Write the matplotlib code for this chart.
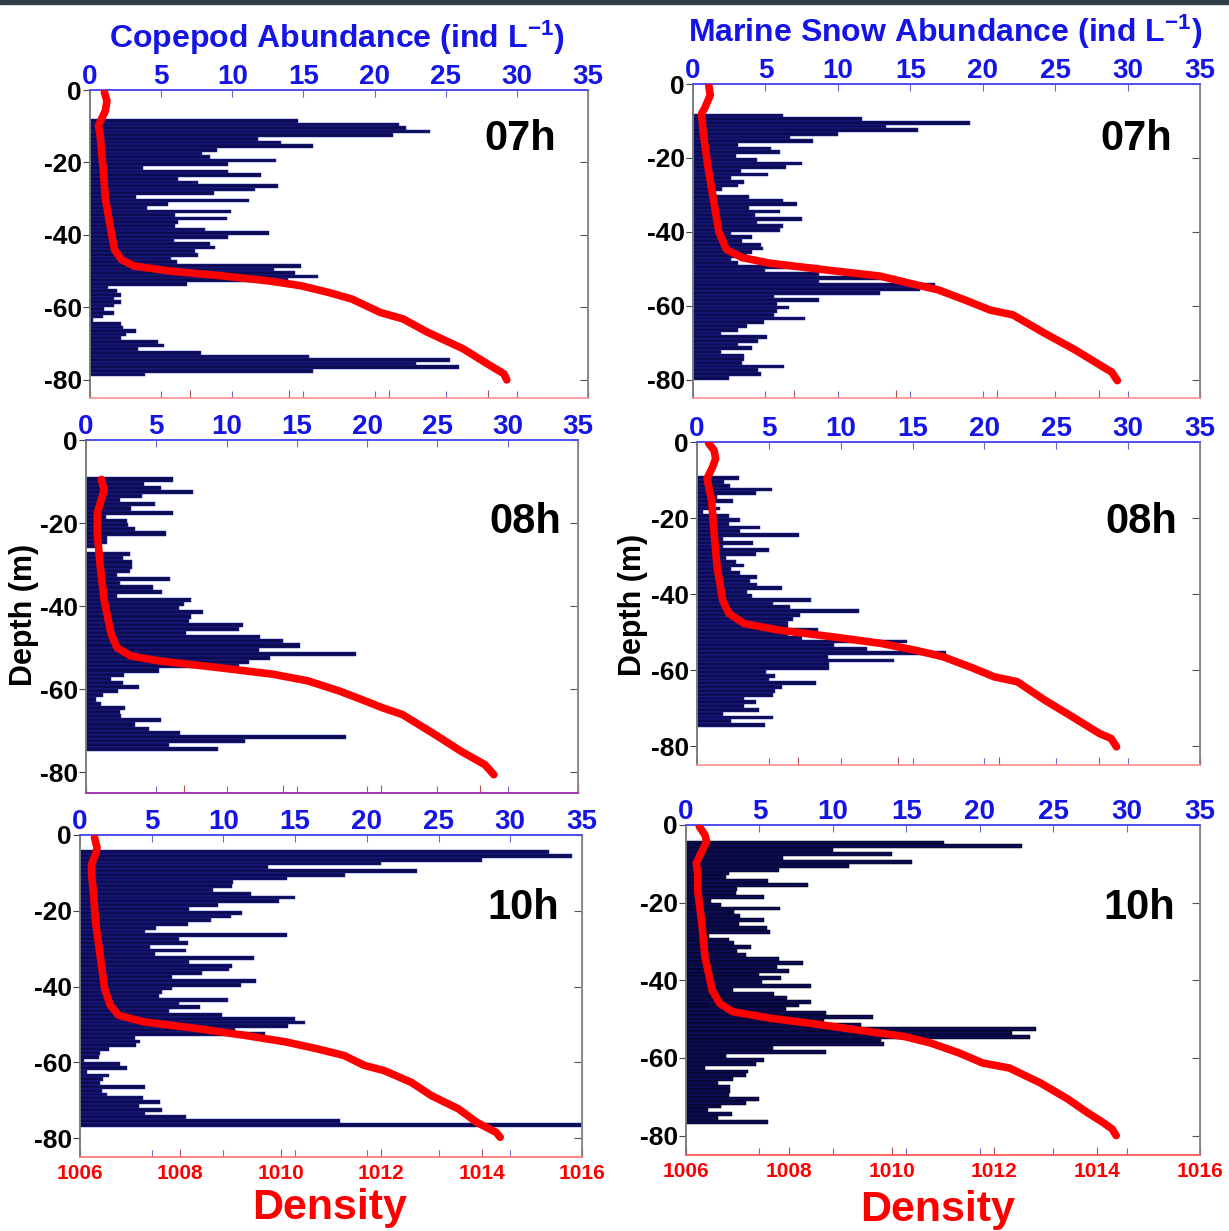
import numpy as np
import matplotlib
matplotlib.use('Agg')
import matplotlib.pyplot as plt
from matplotlib import font_manager
from matplotlib.patches import Rectangle

avail = {f.name for f in font_manager.fontManager.ttflist}
NARROW = 'Liberation Sans Narrow' if 'Liberation Sans Narrow' in avail else 'Liberation Sans'
plt.rcParams['font.family'] = ['Liberation Sans', 'DejaVu Sans']
plt.rcParams['font.weight'] = 'bold'
plt.rcParams['mathtext.fontset'] = 'custom'
plt.rcParams['mathtext.rm'] = 'Liberation Sans:bold'
plt.rcParams['mathtext.bf'] = 'Liberation Sans:bold'
plt.rcParams['mathtext.it'] = 'Liberation Sans:bold'

# ---------------- data ----------------
abund_ticks = [0, 5, 10, 15, 20, 25, 30, 35]
density_ticks = [1006, 1008, 1010, 1012, 1014, 1016]
depth_ticks = [0, -20, -40, -60, -80]

# 1-m depth bins: first bin top depth, then abundance per bin (ind L-1)
cop07_start = 8
cop07 = [14.6, 21.7, 22.2, 23.9, 21.3, 11.8, 13.4, 15.7, 8.9, 7.9,
         8.4, 13.1, 9.7, 3.7, 9.7, 12.0, 6.2, 7.6, 13.2, 11.6,
         8.7, 3.2, 11.2, 5.5, 4.0, 9.9, 6.0, 9.6, 6.2, 6.0,
         8.1, 12.6, 9.7, 5.9, 8.4, 8.8, 7.4, 7.6, 5.7, 6.1,
         14.8, 12.9, 14.4, 16.0, 13.9, 6.8, 1.3, 1.9, 2.2, 1.7,
         2.2, 1.7, 1.0, 1.7, 0.9, 0.2, 2.2, 2.3, 3.2, 2.5,
         2.2, 4.8, 5.2, 3.4, 7.8, 15.4, 25.3, 22.9, 25.9, 15.7, 3.9]

ms07_start = 8
ms07 = [6.2, 11.7, 19.1, 13.3, 15.5, 10.0, 6.7, 8.3, 3.1, 5.4,
        6.0, 3.0, 4.4, 7.5, 6.4, 3.3, 5.2, 2.6, 3.5, 3.1,
        2.0, 1.6, 3.9, 6.2, 7.2, 3.9, 6.0, 4.3, 7.5, 4.4,
        6.2, 6.0, 2.6, 4.1, 3.4, 4.7, 4.8, 4.1, 3.7, 2.6,
        3.1, 8.7, 5.0, 8.7, 14.0, 8.7, 16.7, 15.7, 12.9, 5.6,
        8.7, 5.8, 6.6, 5.8, 5.6, 7.7, 4.9, 3.7, 3.1, 1.9,
        5.1, 4.5, 3.1, 4.1, 1.9, 3.5, 3.5, 3.4, 6.3, 4.5,
        4.7, 2.5]

cop08_start = 9
cop08 = [6.2, 4.1, 5.3, 7.6, 4.0, 2.4, 4.9, 3.2, 6.2, 1.4,
         2.9, 3.0, 3.5, 5.7, 1.5, 1.5, 0.7, 0.0, 3.1, 2.6,
         3.3, 3.3, 3.1, 2.2, 6.0, 2.4, 4.8, 5.4, 2.2, 7.5,
         7.0, 6.6, 8.3, 7.5, 7.3, 11.2, 10.9, 7.1, 12.4, 14.0,
         15.2, 12.3, 19.2, 13.1, 11.6, 10.9, 5.2, 2.7, 1.8, 2.6,
         3.8, 2.3, 1.2, 0.7, 1.1, 2.8, 2.4, 2.5, 5.3, 3.5,
         4.5, 6.7, 18.5, 11.3, 5.9, 9.4]

ms08_start = 9
ms08 = [2.9, 1.9, 2.3, 5.2, 4.1, 1.4, 2.5, 1.1, 1.6, 0.4,
        2.2, 3.0, 2.2, 4.4, 3.0, 7.1, 1.8, 3.9, 1.8, 5.0,
        4.1, 2.0, 2.7, 3.3, 2.4, 3.0, 4.2, 3.7, 4.2, 5.9,
        3.5, 3.8, 7.9, 5.3, 6.5, 11.3, 7.2, 6.7, 6.3, 6.3,
        8.4, 6.3, 7.3, 14.6, 9.5, 11.8, 17.3, 9.1, 13.7, 9.2,
        9.2, 4.8, 5.4, 5.0, 8.3, 5.9, 5.4, 5.3, 3.3, 4.1,
        3.3, 4.3, 1.8, 5.3, 2.4, 4.7]

cop10_start = 4
cop10 = [32.7, 34.3, 28.0, 21.0, 13.1, 23.5, 18.5, 14.4, 10.7, 10.6,
         9.3, 11.9, 15.0, 13.9, 9.6, 7.6, 11.3, 10.5, 9.1, 7.5,
         5.3, 4.5, 14.4, 6.9, 7.5, 4.9, 7.4, 5.2, 12.1, 7.6,
         10.6, 10.4, 8.5, 6.4, 12.3, 11.2, 6.4, 5.7, 5.5, 10.3,
         6.9, 8.4, 6.2, 9.9, 15.0, 15.7, 14.5, 10.8, 12.9, 3.8,
         4.2, 3.9, 2.0, 1.4, 1.3, 0.3, 2.8, 3.3, 0.5, 2.0,
         1.6, 1.4, 4.5, 1.5, 1.9, 4.4, 5.6, 4.1, 5.7, 4.5,
         7.4, 18.1, 40.0]

ms10_start = 4
ms10 = [17.6, 22.9, 10.0, 14.0, 6.6, 15.4, 11.1, 6.3, 2.9, 2.7,
        5.6, 8.3, 3.5, 3.4, 5.3, 1.7, 2.4, 6.4, 3.3, 3.7,
        5.3, 3.6, 5.5, 5.7, 1.6, 2.9, 3.3, 4.4, 3.5, 4.1,
        6.3, 8.0, 6.2, 7.0, 5.0, 6.5, 5.2, 8.5, 3.2, 6.0,
        6.9, 8.5, 7.7, 6.8, 9.5, 12.7, 9.4, 11.9, 23.8, 22.2,
        23.4, 13.3, 13.5, 5.9, 9.5, 2.7, 5.3, 4.8, 1.3, 4.2,
        4.1, 3.2, 2.2, 3.0, 3.0, 2.9, 5.0, 4.1, 2.4, 1.5,
        3.1, 2.2, 5.6]

# density profiles (depth m, density)
dens07c_z = [0.6, 3, 5.7, 9.8, 12, 21, 30, 39.5, 44, 46.8, 48.6, 50, 51.3, 52.7, 54,
             55.9, 57.7, 61.4, 63.2, 66.8, 71.4, 76, 78.3, 80]
dens07c = [1006.29, 1006.34, 1006.31, 1006.17, 1006.20, 1006.26, 1006.31, 1006.43, 1006.49,
           1006.63, 1006.89, 1007.63, 1008.66, 1009.60, 1010.23, 1010.80, 1011.26, 1011.83,
           1012.29, 1012.77, 1013.49, 1014.03, 1014.31, 1014.37]

dens07m_z = [0.3, 3, 6.6, 8, 13, 22, 31, 40, 44.8, 47, 48.5, 50.3, 52, 54, 55.7, 58.5,
             61.2, 62.5, 67.5, 72, 76.6, 78, 80.3]
dens07m = [1006.31, 1006.34, 1006.23, 1006.17, 1006.20, 1006.29, 1006.40, 1006.51, 1006.66,
           1006.97, 1007.51, 1008.60, 1009.69, 1010.29, 1010.83, 1011.37, 1011.86, 1012.31,
           1012.94, 1013.54, 1014.09, 1014.26, 1014.37]

dens08c_z = [9.5, 12, 14.4, 17.6, 22.5, 30.5, 38.6, 46.7, 50, 52, 53.2, 54.8, 56.4, 58,
             60.4, 62.9, 64.5, 66.1, 70.9, 75, 78.2, 80.6]
dens08c = [1006.31, 1006.37, 1006.31, 1006.23, 1006.23, 1006.29, 1006.37, 1006.51, 1006.63,
           1006.91, 1007.49, 1008.69, 1009.80, 1010.51, 1011.14, 1011.69, 1012.03, 1012.43,
           1013.09, 1013.63, 1014.11, 1014.29]

dens08m_z = [0.3, 2.2, 4.4, 6.6, 9.6, 15.3, 24, 32.9, 41.6, 45.1, 47.8, 49.5, 51.3, 53,
             54.8, 56.5, 59.2, 61.8, 63.1, 67.9, 72.3, 76.7, 78, 80.2]
dens08m = [1006.23, 1006.34, 1006.37, 1006.31, 1006.20, 1006.29, 1006.34, 1006.40, 1006.51,
           1006.63, 1006.94, 1007.63, 1008.71, 1009.66, 1010.34, 1010.89, 1011.43, 1011.91,
           1012.37, 1012.91, 1013.46, 1014.00, 1014.23, 1014.34]

dens10c_z = [0.7, 3.4, 5.1, 7.8, 10.4, 14, 22.8, 31.7, 40.5, 44.9, 47.6, 49.3, 51.1, 52.9,
             54.6, 56.4, 58.2, 60.8, 62.2, 65.3, 68.8, 72.3, 75.9, 78.5, 79.8]
dens10c = [1006.29, 1006.34, 1006.31, 1006.23, 1006.23, 1006.26, 1006.31, 1006.40, 1006.49,
           1006.60, 1006.77, 1007.26, 1008.34, 1009.29, 1010.09, 1010.71, 1011.26, 1011.66,
           1012.06, 1012.60, 1013.00, 1013.54, 1013.91, 1014.29, 1014.37]

dens10m_z = [0.4, 2.6, 4.3, 6.8, 9.8, 12.8, 17, 25.5, 34, 42.6, 46, 48.1, 49.8, 51.1, 52.8,
             54.5, 56.2, 58.7, 61.3, 62.6, 66.4, 70.6, 74, 76.6, 78.3, 80]
dens10m = [1006.26, 1006.37, 1006.40, 1006.31, 1006.20, 1006.23, 1006.23, 1006.31, 1006.37,
           1006.51, 1006.66, 1006.91, 1007.66, 1008.43, 1009.34, 1010.26, 1010.77, 1011.31,
           1011.77, 1012.29, 1012.89, 1013.43, 1013.80, 1014.11, 1014.29, 1014.37]

# ---------------- figure ----------------
W, H = 1229, 1231
fig = plt.figure(figsize=(W / 100, H / 100), dpi=100)
fig.patches.append(Rectangle((0, 1 - 4 / H), 1, 4 / H, transform=fig.transFigure,
                             color='#2e3e4a', zorder=0))

NAVY = '#0b0b52'
EDGE = '#2a2ab0'
BLUE = '#1414e6'
RED = '#ff0000'


def px(x0, x1, ytop, ybot):
    return [x0 / W, 1 - ybot / H, (x1 - x0) / W, (ybot - ytop) / H]


def panel(pos, start, vals, dz, dv, bottom_col, tag, tag_xy, show_dens, edge=EDGE):
    ax = fig.add_axes(pos)
    depth = start + np.arange(len(vals))
    ax.barh(-(depth + 1), vals, height=1.0, align='edge', color=NAVY,
            edgecolor=edge, linewidth=0.35, zorder=2)
    ax.set_xlim(0, 35)
    ax.set_ylim(-85, 0)

    ax2 = ax.twiny()
    ax2.set_xlim(1006, 1016)
    ax2.plot(dv, -np.array(dz), color=RED, lw=5.5, solid_capstyle='round',
             solid_joinstyle='round', zorder=5)
    ax2.xaxis.set_ticks_position('bottom')
    ax2.xaxis.set_label_position('bottom')
    ax2.set_xticks(density_ticks)
    ax2.tick_params(axis='x', top=False, bottom=True, labeltop=False,
                    direction='in', length=6, color='#b05050',
                    labelcolor=RED, labelsize=15, labelbottom=show_dens, pad=5)

    # abundance axis on top (set after twiny, which resets it)
    ax.set_xticks(abund_ticks)
    ax.set_xticklabels([str(t) for t in abund_ticks])
    ax.tick_params(axis='x', top=True, bottom=True, labeltop=True, labelbottom=False,
                   direction='in', length=5, color='#6a6ad0', labelcolor=BLUE,
                   labelsize=20, pad=0)
    ax.set_yticks(depth_ticks)
    ax.set_yticklabels([str(t) for t in depth_ticks])
    ax.tick_params(axis='y', left=True, right=False, direction='out', length=5,
                   color='#444444', labelsize=19, pad=1, labelcolor='black')
    sec = ax.secondary_yaxis('right')
    sec.set_yticks(depth_ticks)
    sec.set_yticklabels([])
    sec.tick_params(direction='in', length=6, color='#555555')
    sec.spines['right'].set_color('#8a8a8a')

    for a in (ax, ax2):
        a.spines['top'].set_color('#4a4aee')
        a.spines['bottom'].set_color(bottom_col)
        a.spines['left'].set_color('#7a7a7a')
        a.spines['right'].set_color('#8a8a8a')
        for s in a.spines.values():
            s.set_linewidth(1.1)
    fig.text(tag_xy[0] / W, 1 - tag_xy[1] / H, tag, family=[NARROW, 'Liberation Sans'],
             fontsize=33 if NARROW != 'Liberation Sans' else 30, fontweight='bold',
             ha='center', va='center', color='black')
    return ax


panel(px(90, 588, 90, 398), cop07_start, cop07, dens07c_z, dens07c, '#ff9a9a', '07h', (520, 139), False)
panel(px(693, 1200, 84, 398), ms07_start, ms07, dens07m_z, dens07m, '#ff9a9a', '07h', (1136, 139), False)
panel(px(86, 578, 440, 793), cop08_start, cop08, dens08c_z, dens08c, '#a030b0', '08h', (525, 522), False)
panel(px(697, 1200, 442, 765), ms08_start, ms08, dens08m_z, dens08m, '#ff9a9a', '08h', (1141, 522), False)
panel(px(80, 582, 835, 1157), cop10_start, cop10, dens10c_z, dens10c, '#ff8080', '10h', (523, 908), True)
panel(px(686, 1200, 825, 1155), ms10_start, ms10, dens10m_z, dens10m, '#ff6060', '10h', (1139, 908), True,
      edge='#000000')

# titles and axis labels
fig.text(337 / W, 1 - 38 / H, 'Copepod Abundance (ind L$^{-1}$)', color=BLUE,
         fontsize=23, fontweight='bold', ha='center', va='center')
fig.text(945 / W, 1 - 32 / H, 'Marine Snow Abundance (ind L$^{-1}$)', color=BLUE,
         fontsize=23, fontweight='bold', ha='center', va='center')
nsz = 24 if NARROW != 'Liberation Sans' else 22
fig.text(24 / W, 1 - 615 / H, 'Depth (m)', rotation=90, family=[NARROW, 'Liberation Sans'],
         fontsize=nsz, fontweight='bold', ha='center', va='center')
fig.text(633 / W, 1 - 605 / H, 'Depth (m)', rotation=90, family=[NARROW, 'Liberation Sans'],
         fontsize=nsz, fontweight='bold', ha='center', va='center')
dsz = 36 if NARROW != 'Liberation Sans' else 31
fig.text(330 / W, 1 - 1208 / H, 'Density', color=RED, family=[NARROW, 'Liberation Sans'],
         fontsize=dsz, fontweight='bold', ha='center', va='center')
fig.text(938 / W, 1 - 1210 / H, 'Density', color=RED, family=[NARROW, 'Liberation Sans'],
         fontsize=dsz, fontweight='bold', ha='center', va='center')

fig.savefig('out.png', dpi=100)
